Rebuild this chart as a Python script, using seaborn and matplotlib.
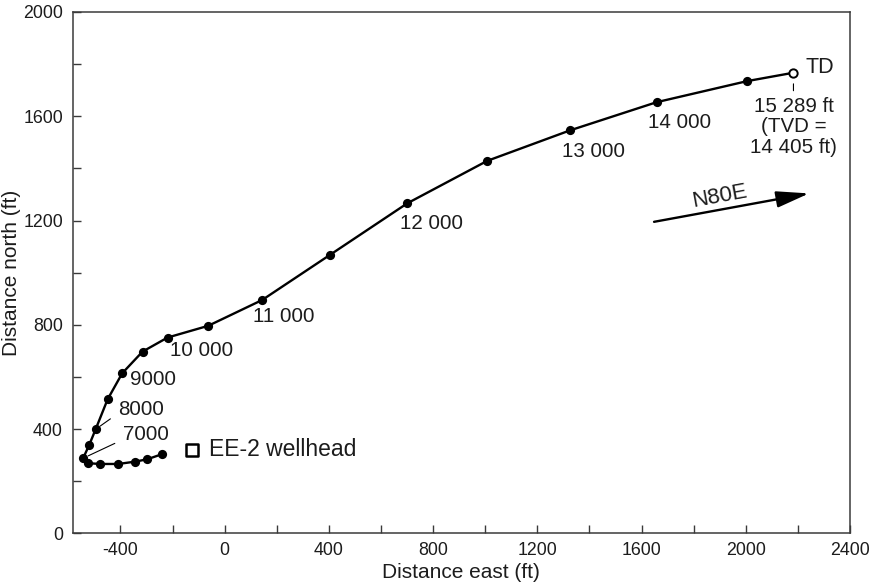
import matplotlib
matplotlib.use("Agg")
import matplotlib.pyplot as plt
import seaborn as sns
import pandas as pd

# ---- data ----
east_ft = [-242, -297, -343, -408, -479, -524, -543, -520, -495, -449, -393,
           -315, -219, -63, 144, 404, 701, 1008, 1326, 1658, 2006, 2183]
north_ft = [303, 284, 275, 266, 266, 269, 288, 338, 399, 514, 614,
            697, 751, 796, 895, 1068, 1266, 1429, 1546, 1654, 1735, 1767]

depth_labels = ["7000", "8000", "9000", "10 000", "11 000", "12 000", "13 000", "14 000"]
depth_label_index = [6, 8, 10, 12, 14, 16, 18, 19]

wellhead_east = [-127]
wellhead_north = [320]
wellhead_label = "EE-2 wellhead"

td_label = "TD"
td_note = "15 289 ft\n(TVD =\n14 405 ft)"

azimuth_label = "N80E"
azimuth_start = (1648, 1195)
azimuth_end = (2243, 1304)
azimuth_text_pos = (1901, 1294)

x_ticks = [-400, 0, 400, 800, 1200, 1600, 2000, 2400]
y_ticks = [0, 400, 800, 1200, 1600, 2000]
x_label = "Distance east (ft)"
y_label = "Distance north (ft)"

# ---- style ----
sns.set_style("ticks")
plt.rcParams["font.family"] = ["Liberation Sans", "DejaVu Sans"]
plt.rcParams["axes.unicode_minus"] = False
TXT = "#1c1c1c"
SPINE = "#3a3a3a"

df = pd.DataFrame({"east": east_ft, "north": north_ft})

fig = plt.figure(figsize=(8.76, 5.83), dpi=100)
ax = fig.add_axes([72.7 / 876, 1 - 533.3 / 583, (850 - 72.7) / 876, (533.3 - 12) / 583])

# trajectory line
sns.lineplot(data=df, x="east", y="north", sort=False, estimator=None,
             color="black", lw=1.7, ax=ax, zorder=2)
# survey points (all but TD)
sns.scatterplot(data=df.iloc[:-1], x="east", y="north", color="black",
                s=44, edgecolor="black", linewidth=0, ax=ax, zorder=3)
# TD open marker
sns.scatterplot(data=df.iloc[-1:], x="east", y="north", color="white",
                s=36, edgecolor="black", linewidth=1.4, ax=ax, zorder=4)

# wellhead
sns.scatterplot(x=wellhead_east, y=wellhead_north, marker="s", color="white",
                s=80, edgecolor="black", linewidth=1.8, ax=ax, zorder=4)
ax.annotate(wellhead_label, (wellhead_east[0], wellhead_north[0]),
            xytext=(17, 0), textcoords="offset pixels", ha="left", va="center",
            fontsize=16.5, color=TXT)

# depth labels
offsets = {
    "7000": (40, 23.5), "8000": (22.6, 19.8), "9000": (7.7, -6.2),
    "10 000": (2.3, -12.8), "11 000": (-9, -16.7), "12 000": (-7.3, -19.7),
    "13 000": (-8.3, -20.7), "14 000": (-9, -20),
}
leaders = {"7000": (0.0, 0.25), "8000": (0.0, 0.3)}
for lab, idx in zip(depth_labels, depth_label_index):
    xy = (east_ft[idx], north_ft[idx])
    kw = {}
    if lab in leaders:
        kw["arrowprops"] = dict(arrowstyle="-", lw=0.8, color="black",
                                relpos=leaders[lab], shrinkA=4, shrinkB=4)
    ax.annotate(lab, xy, xytext=offsets[lab], textcoords="offset pixels",
                ha="left", va="center", fontsize=14.8, color=TXT, **kw)

# TD annotations
td_xy = (east_ft[-1], north_ft[-1])
ax.annotate(td_label, td_xy, xytext=(12, 5), textcoords="offset pixels",
            ha="left", va="center", fontsize=15.5, color=TXT)
ax.annotate("", xy=td_xy, xytext=(0, -18), textcoords="offset pixels",
            arrowprops=dict(arrowstyle="-", lw=0.8, color="black",
                            shrinkA=0, shrinkB=8))
ax.annotate(td_note, td_xy, xytext=(0, -54), textcoords="offset pixels",
            ha="center", va="center", fontsize=14.8, color=TXT,
            linespacing=1.1, multialignment="center")

# N80E arrow
ax.annotate("", xy=azimuth_end, xytext=azimuth_start,
            arrowprops=dict(arrowstyle="-|>,head_length=2.0,head_width=0.5",
                            lw=1.7, color="black", shrinkA=0, shrinkB=0))
ax.text(azimuth_text_pos[0], azimuth_text_pos[1], azimuth_label,
        ha="center", va="center", rotation=10.5, rotation_mode="anchor",
        fontsize=16, color=TXT)

# axes
ax.set_xlim(-583, 2400)
ax.set_ylim(0, 2000)
ax.set_xticks(x_ticks)
ax.set_yticks(y_ticks)
ax.set_xticks(range(-400, 2400, 200), minor=True)
ax.set_yticks(range(0, 2000, 200), minor=True)
ax.tick_params(which="both", direction="in", length=6, width=1, color=SPINE,
               labelsize=12.8, labelcolor=TXT)
ax.tick_params(axis="y", which="both", pad=7)
ax.tick_params(axis="x", which="both", pad=6)
ax.set_xlabel(x_label, fontsize=15, color=TXT, labelpad=3)
ax.set_ylabel(y_label, fontsize=15, color=TXT, labelpad=1.5)
for s in ax.spines.values():
    s.set_color(SPINE)
    s.set_linewidth(1.1)

fig.savefig("out.png", dpi=100)
